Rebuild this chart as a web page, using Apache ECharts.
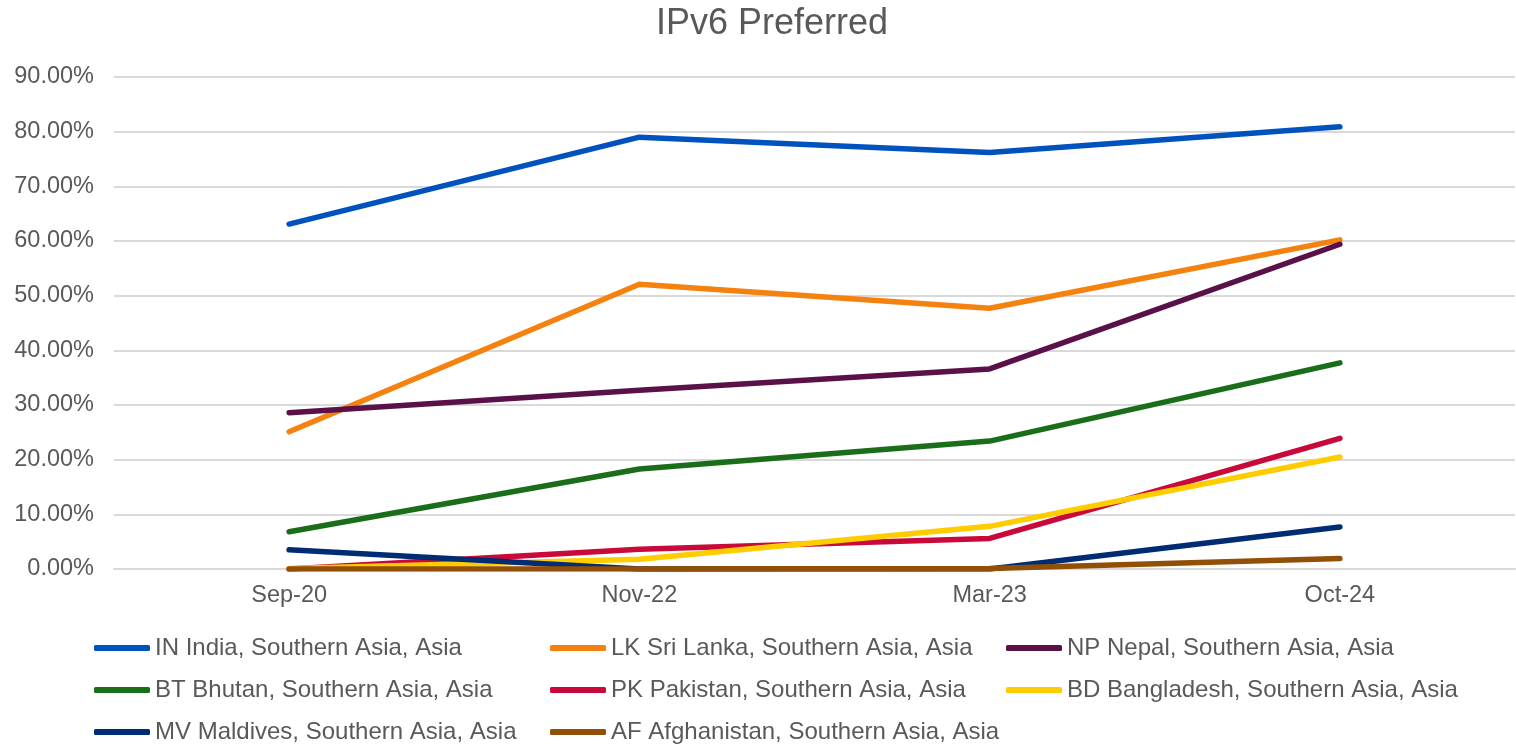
<!DOCTYPE html>
<html>
<head>
<meta charset="utf-8">
<title>IPv6 Preferred</title>
<script src="https://cdn.jsdelivr.net/npm/echarts@6/dist/echarts.min.js"></script>
<style>
  html, body { margin: 0; padding: 0; background: #fff; }
  #chart { width: 1516px; height: 749px; }
</style>
</head>
<body>
<div id="chart"></div>
<script>
// categories + yearly values (percent)
const months = ['Sep-20', 'Nov-22', 'Mar-23', 'Oct-24']
const yTicks = [0, 10, 20, 30, 40, 50, 60, 70, 80, 90]

const india = [63.1, 79.0, 76.2, 80.9]
const sriLanka = [25.1, 52.1, 47.7, 60.2]
const nepal = [28.6, 32.7, 36.6, 59.4]
const bhutan = [6.8, 18.3, 23.4, 37.7]
const pakistan = [0, 3.6, 5.6, 23.9]
const bangladesh = [0.1, 1.8, 7.8, 20.5]
const maldives = [3.5, 0, 0, 7.7]
const afghanistan = [0, 0, 0.1, 1.9]

const names = [
  'IN India, Southern Asia, Asia',
  'LK Sri Lanka, Southern Asia, Asia',
  'NP Nepal, Southern Asia, Asia',
  'BT Bhutan, Southern Asia, Asia',
  'PK Pakistan, Southern Asia, Asia',
  'BD Bangladesh, Southern Asia, Asia',
  'MV Maldives, Southern Asia, Asia',
  'AF Afghanistan, Southern Asia, Asia'
]
const colors = ['#0052BE', '#F5820F', '#5A1149', '#1B6E19', '#C8093A', '#FFCC00', '#002C73', '#924F07']
const values = [india, sriLanka, nepal, bhutan, pakistan, bangladesh, maldives, afghanistan]

const font = '"Liberation Sans", Arial, sans-serif'
const grey = '#595959'

const chart = echarts.init(document.getElementById('chart'))
chart.setOption({
  animation: false,
  textStyle: { fontFamily: font },
  title: {
    text: 'IPv6 Preferred',
    left: 651, top: 1,
    textStyle: { color: grey, fontSize: 36, fontWeight: 'normal', fontFamily: font }
  },
  grid: { top: 77, left: 114, right: 1, height: 492, containLabel: false },
  legend: {
    left: 94, top: 627, width: 1400, padding: 0,
    icon: 'roundRect', itemWidth: 56, itemHeight: 6, itemGap: 0, itemTextGap: 3,
    textStyle: { color: grey, fontSize: 24, width: 395, lineHeight: 42, fontFamily: font },
    data: names
  },
  xAxis: {
    type: 'category', data: months, boundaryGap: true,
    axisLine: { lineStyle: { color: '#D9D9D9', width: 2 } },
    axisTick: { show: false },
    axisLabel: { color: grey, fontSize: 23.5, margin: 15, fontFamily: font }
  },
  yAxis: {
    type: 'value', min: 0, max: 90, interval: 10,
    axisLine: { show: false }, axisTick: { show: false },
    axisLabel: {
      color: grey, fontSize: 23.5, margin: 20, fontFamily: font,
      formatter: (v) => yTicks.includes(v) ? v.toFixed(2) + '%' : ''
    },
    splitLine: { lineStyle: { color: '#D9D9D9', width: 2 } }
  },
  series: values.map((d, i) => ({
    name: names[i], type: 'line', data: d,
    symbol: 'none', color: colors[i],
    lineStyle: { color: colors[i], width: 5.5, cap: 'round', join: 'round' }
  }))
})
</script>
</body>
</html>
